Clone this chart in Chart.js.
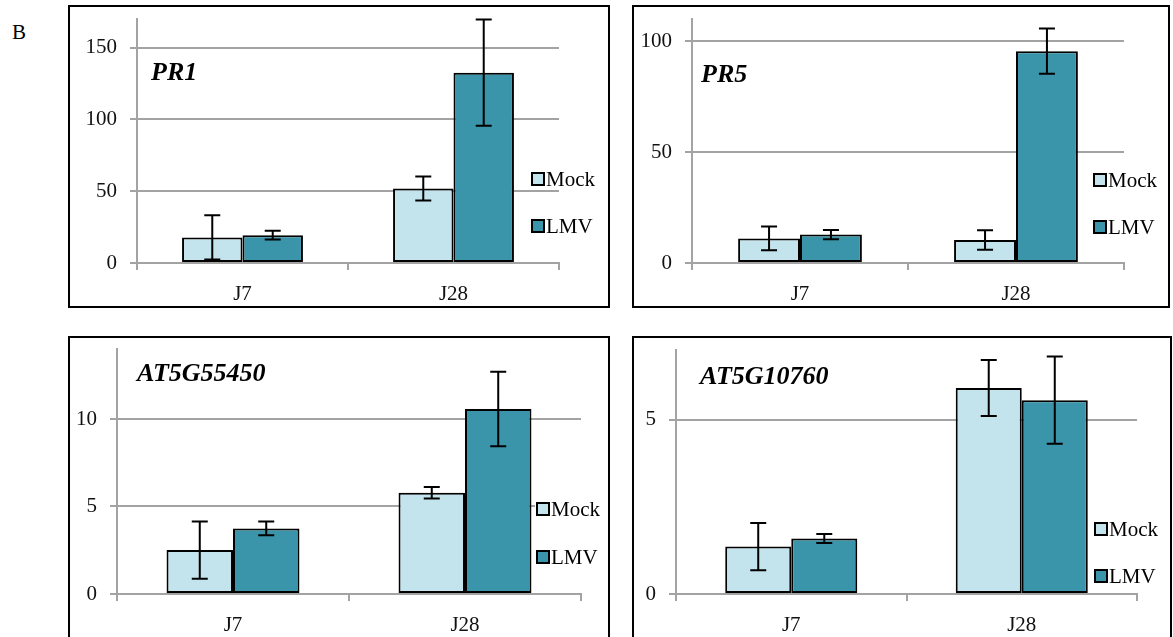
<!DOCTYPE html>
<html>
<head>
<meta charset="utf-8">
<title>PR1 PR5 AT5G55450 AT5G10760</title>
<script src="https://cdn.jsdelivr.net/npm/chart.js@4.4.0/dist/chart.umd.min.js"></script>
<style>
    body { margin: 0; background: #fff; width: 1173px; height: 637px; overflow: hidden; position: relative; font-family: "Liberation Serif", serif; }
    .panel { position: absolute; box-sizing: border-box; border: 2px solid #000; }
    .panel canvas { position: absolute; left: -2px; top: -2px; }
    #letter { position: absolute; left: 12px; top: 20px; font-size: 21px; }
</style>
</head>
<body>
<div id="letter">B</div>
<div class="panel" style="left:68px; top:5px; width:542px; height:303px;"><canvas id="pr1" width="542" height="303"></canvas></div>
<div class="panel" style="left:632px; top:5px; width:538px; height:303px;"><canvas id="pr5" width="538" height="303"></canvas></div>
<div class="panel" style="left:68px; top:336px; width:542px; height:310px;"><canvas id="at55" width="542" height="310"></canvas></div>
<div class="panel" style="left:632px; top:336px; width:540px; height:310px;"><canvas id="at10" width="540" height="310"></canvas></div>
<script>
const categories = ["J7", "J28"];
const seriesNames = ["Mock", "LMV"];

const pr1Mock = [17.8, 51.9];
const pr1MockErr = [15.4, 8.4];
const pr1Lmv = [19.4, 132.6];
const pr1LmvErr = [3.0, 37.0];

const pr5Mock = [11.1, 10.4];
const pr5MockErr = [5.3, 4.4];
const pr5Lmv = [12.8, 95.5];
const pr5LmvErr = [2.1, 10.2];

const at55Mock = [2.51, 5.79];
const at55MockErr = [1.64, 0.33];
const at55Lmv = [3.75, 10.57];
const at55LmvErr = [0.39, 2.13];

const at10Mock = [1.36, 5.91];
const at10MockErr = [0.68, 0.8];
const at10Lmv = [1.59, 5.56];
const at10LmvErr = [0.13, 1.25];

const mockColor = "#c3e4ec";
const lmvColor = "#3b95aa";
const gridColor = "#a3a3a3";

Chart.defaults.font.family = "'Liberation Serif', serif";
Chart.defaults.font.size = 21;
Chart.defaults.color = "#111";

// error bars, drawn from the bar elements and the y scale
const errorBars = {
    id: "errorBars",
    afterDatasetsDraw(chart) {
        const ctx = chart.ctx;
        const y = chart.scales.y;
        ctx.save();
        ctx.strokeStyle = "#000";
        ctx.lineWidth = 2;
        chart.data.datasets.forEach((ds, i) => {
            const meta = chart.getDatasetMeta(i);
            meta.data.forEach((bar, j) => {
                const top = y.getPixelForValue(ds.data[j] + ds.errors[j]);
                const bot = y.getPixelForValue(ds.data[j] - ds.errors[j]);
                ctx.beginPath();
                ctx.moveTo(bar.x, top);
                ctx.lineTo(bar.x, bot);
                ctx.moveTo(bar.x - 8, top);
                ctx.lineTo(bar.x + 8, top);
                ctx.moveTo(bar.x - 8, bot);
                ctx.lineTo(bar.x + 8, bot);
                ctx.stroke();
            });
        });
        ctx.restore();
    }
};

const sideLegend = {
    id: "sideLegend",
    afterDraw(chart, args, opts) {
        const ctx = chart.ctx;
        ctx.save();
        ctx.font = "21px 'Liberation Serif'";
        ctx.textBaseline = "middle";
        chart.data.datasets.forEach((ds, i) => {
            const x = opts.x;
            const yc = opts.ys[i];
            const w = ctx.measureText(ds.label).width;
            ctx.fillStyle = "#fff";
            ctx.fillRect(x - 2, yc - 11, w + 20, 22);
            ctx.fillStyle = ds.backgroundColor;
            ctx.fillRect(x, yc - 6, 12, 12);
            ctx.strokeStyle = "#000";
            ctx.lineWidth = 2;
            ctx.strokeRect(x, yc - 6, 12, 12);
            ctx.fillStyle = "#000";
            ctx.fillText(ds.label, x + 14, yc + 1);
        });
        ctx.restore();
    }
};

const geneTitle = {
    id: "geneTitle",
    afterDraw(chart, args, opts) {
        const ctx = chart.ctx;
        ctx.save();
        ctx.font = "italic bold 26px 'Liberation Serif'";
        ctx.textBaseline = "middle";
        ctx.fillStyle = "#000";
        ctx.fillText(opts.text, opts.x, opts.y);
        ctx.restore();
    }
};

function drawPanel(id, title, mock, mockErr, lmv, lmvErr, yMax, step, area, legend, titlePos) {
    const canvas = document.getElementById(id);
    const w = canvas.width;
    const h = canvas.height;
    new Chart(canvas, {
        type: "bar",
        data: {
            labels: categories,
            datasets: [{
                label: seriesNames[0],
                data: mock,
                errors: mockErr,
                backgroundColor: mockColor,
                borderColor: "#000",
                borderWidth: 2,
                borderSkipped: false
            },
                {
                    label: seriesNames[1],
                    data: lmv,
                    errors: lmvErr,
                    backgroundColor: lmvColor,
                    borderColor: "#000",
                    borderWidth: 2,
                    borderSkipped: false
                }]
        },
        options: {
            responsive: false,
            animation: false,
            categoryPercentage: 0.573,
            barPercentage: 1.0,
            layout: {
                padding: { left: 0, top: area.top, right: w - area.right, bottom: 0 }
            },
            plugins: {
                legend: { display: false },
                tooltip: { enabled: false },
                sideLegend: legend,
                geneTitle: { text: title, x: titlePos.x, y: titlePos.y }
            },
            scales: {
                x: {
                    grid: { display: true, drawOnChartArea: false, offset: true, color: gridColor, lineWidth: 2, tickLength: 7 },
                    border: { color: gridColor, width: 2 },
                    ticks: { padding: 12, color: "#111" },
                    afterFit(scale) {
                        scale.height = h - area.bottom;
                        scale.paddingLeft = 0;
                        scale.paddingRight = 0;
                    }
                },
                y: {
                    min: 0,
                    max: yMax,
                    grid: { color: gridColor, lineWidth: 2, tickLength: 7 },
                    border: { color: gridColor, width: 2 },
                    ticks: { stepSize: step, includeBounds: false, padding: 13, color: "#111" },
                    afterFit(scale) {
                        scale.width = area.left;
                        scale.paddingTop = 0;
                        scale.paddingBottom = 0;
                    }
                }
            }
        },
        plugins: [errorBars, sideLegend, geneTitle]
    });
}

window.addEventListener("DOMContentLoaded", () => {
    drawPanel("pr1", "PR1", pr1Mock, pr1MockErr, pr1Lmv, pr1LmvErr, 170, 50,
        { left: 69, top: 14, right: 491, bottom: 258 }, { x: 464, ys: [174, 221] }, { x: 83, y: 68 });
    drawPanel("pr5", "PR5", pr5Mock, pr5MockErr, pr5Lmv, pr5LmvErr, 110, 50,
        { left: 60, top: 14, right: 492, bottom: 258 }, { x: 462, ys: [175, 222] }, { x: 69, y: 70 });
    drawPanel("at55", "AT5G55450", at55Mock, at55MockErr, at55Lmv, at55LmvErr, 14, 5,
        { left: 49, top: 13, right: 513, bottom: 258 }, { x: 469, ys: [173, 221] }, { x: 69, y: 38 });
    drawPanel("at10", "AT5G10760", at10Mock, at10MockErr, at10Lmv, at10LmvErr, 7, 5,
        { left: 44, top: 14, right: 505, bottom: 258 }, { x: 463, ys: [193, 240] }, { x: 68, y: 41 });
});
</script>
</body>
</html>
